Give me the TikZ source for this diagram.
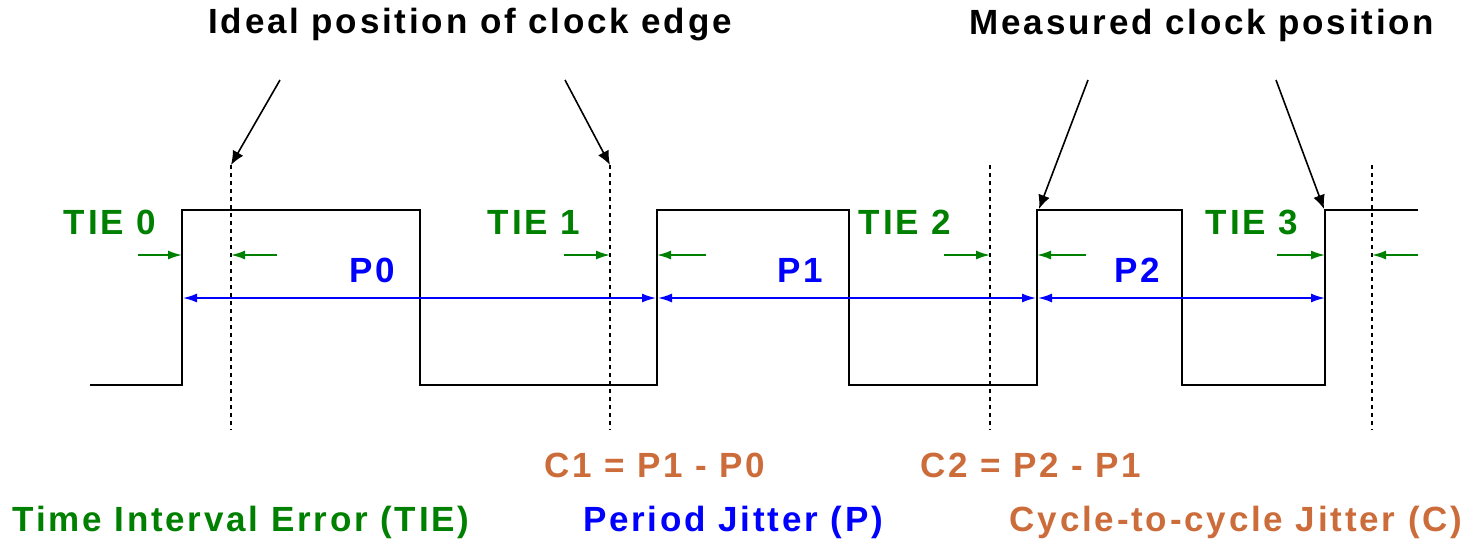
\documentclass[tikz,border=0pt]{standalone}
\usepackage{fontspec}
\setmainfont{Liberation Sans}[LetterSpace=8]
\usetikzlibrary{arrows.meta}
\definecolor{tiegreen}{RGB}{0,128,0}
\definecolor{perblue}{RGB}{0,0,255}
\definecolor{cycorange}{RGB}{204,108,58}
\tikzset{
  wave/.style={line width=2pt,black},
  ideal/.style={line width=2.2pt,dash pattern=on 4pt off 4pt},
  pointer/.style={line width=1.6pt,-{Latex[length=14pt,width=12pt]}},
  tiearr/.style={tiegreen,line width=1.6pt,-{Latex[length=14pt,width=9pt]}},
  perarr/.style={perblue,line width=1.6pt,{Latex[length=14pt,width=9pt]}-{Latex[length=14pt,width=9pt]}},
  txt/.style={font=\fontsize{35}{40}\selectfont\bfseries,inner sep=0pt}
}
\begin{document}
\begin{tikzpicture}[x=1pt,y=-1pt]
	\useasboundingbox (0,0) rectangle (1467,550);
	% clock edges (measured)
	\draw[wave] (90,385) -| (182,210) -| (420,385) -| (657,210) -| (849,385) -| (1037,210) -| (1182,385) -| (1325,210) -- (1418,210);
	% ideal edges
	\foreach \n/\x in {0/231,1/610,2/990,3/1372}{
		\coordinate (i\n) at (\x,165);
		\draw[ideal] (i\n) -- (\x,430);
	}
	% titles and pointers
	\node[txt] (ideal) at (470,25) {Ideal position of clock edge};
	\node[txt] (meas) at (1202,25) {Measured clock position};
	\coordinate (a0) at (280,80); \coordinate (a1) at (565,80);
	\coordinate (a2) at (1088,80); \coordinate (a3) at (1276,80);
	\coordinate (m2) at (1039,209); \coordinate (m3) at (1324,209);
	\draw[pointer] (a0) -- (i0);
	\draw[pointer] (a1) -- (i1);
	\draw[pointer] (a2) -- (m2);
	\draw[pointer] (a3) -- (m3);
	% TIE
	\foreach \n/\lx in {0/110,1/534,2/905,3/1252}{
		\node[txt,text=tiegreen] (tie\n) at (\lx,222) {TIE \n};
	}
	\draw[tiearr] (138,255) -- (182,255);  \draw[tiearr] (277,255) -- (231,255);
	\draw[tiearr] (564,255) -- (610,255);  \draw[tiearr] (706,255) -- (657,255);
	\draw[tiearr] (944,255) -- (990,255);  \draw[tiearr] (1086,255) -- (1037,255);
	\draw[tiearr] (1277,255) -- (1325,255); \draw[tiearr] (1418,255) -- (1372,255);
	% periods
	\node[txt,text=perblue] (p0) at (372,270) {P0};
	\node[txt,text=perblue] (p1) at (800,270) {P1};
	\node[txt,text=perblue] (p2) at (1137,270) {P2};
	\draw[perarr] (183,298) -- (656,298);
	\draw[perarr] (658,298) -- (1036,298);
	\draw[perarr] (1038,298) -- (1325,298);
	% cycle-to-cycle
	\node[txt,text=cycorange] (c1) at (655,465) {C1 = P1 - P0};
	\node[txt,text=cycorange] (c2) at (1031,465) {C2 = P2 - P1};
	% legend
	\node[txt,text=tiegreen] (ltie) at (241,522) {Time Interval Error (TIE)};
	\node[txt,text=perblue] (lper) at (733,522) {Period Jitter (P)};
	\node[txt,text=cycorange] (lcyc) at (1236,522) {Cycle-to-cycle Jitter (C)};
\end{tikzpicture}
\end{document}
